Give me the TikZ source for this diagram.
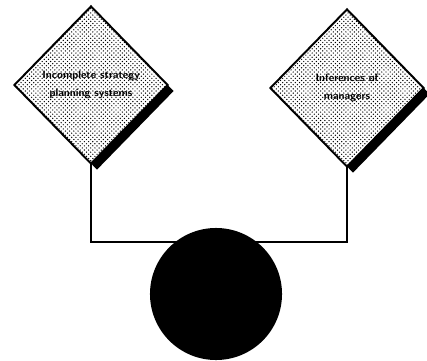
\documentclass[tikz,border=0pt]{standalone}
\usepackage{tikz}
\usetikzlibrary{shapes.geometric,shadows,patterns}

\begin{document}
\begin{tikzpicture}[
    x=0.025cm,y=-0.025cm,
    cause/.style={diamond,draw=black,line width=1.4pt,fill=white,inner sep=0pt,
      minimum width=3.85cm,minimum height=3.95cm,align=center,
      font=\sffamily\bfseries\fontsize{7.6}{12.5}\selectfont,
      preaction={drop shadow={shadow xshift=0.15cm,shadow yshift=-0.15cm,
        fill=black,opacity=1}},
      postaction={pattern=crosshatch dots}},
    event/.style={circle,fill=black,minimum size=3.3cm,inner sep=0pt},
    link/.style={line width=2pt,line cap=rect}
  ]
    \useasboundingbox (0,0) rectangle (427,361);

    \node[cause] (strategy) at (91,85) {Incomplete strategy\\planning systems};
    \node[cause] (managers) at (347,88) {Inferences of\\managers};
    \coordinate (join) at (216,242);

    \draw[link] (strategy.south) |- (join) -| (managers.south);

    \node[event] (top) at (216,294) {};
  \end{tikzpicture}
\end{document}
